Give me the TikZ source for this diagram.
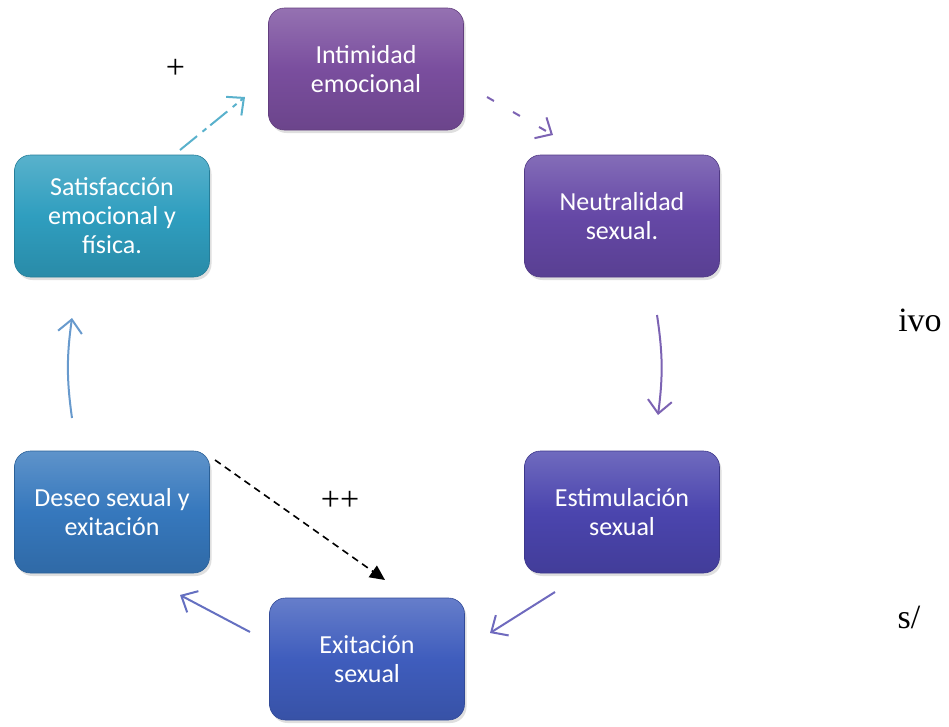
\documentclass[tikz,border=0pt]{standalone}
\usepackage{fontspec}
\setmainfont{Liberation Serif}
\newfontfamily\boxfont{Carlito}
\usetikzlibrary{arrows.meta,shadows}
\definecolor{cA}{HTML}{7A4E9E}
\definecolor{cB}{HTML}{6548A6}
\definecolor{cC}{HTML}{4B45AE}
\definecolor{cD}{HTML}{3F5DBD}
\definecolor{cE}{HTML}{3678BD}
\definecolor{cF}{HTML}{2F9EBF}
\tikzset{
  stagebox/.style={rounded corners=16pt, minimum width=195pt, minimum height=122pt,
    align=center, text=white, font=\boxfont\fontsize{26}{29}\selectfont,
    draw=#1!80!black, line width=0.6pt,
    top color=#1!80!white, bottom color=#1!88!black, middle color=#1,
    drop shadow={opacity=0.25, shadow xshift=2pt, shadow yshift=-3pt}},
  flow/.style={line width=2pt, -{Straight Barb[length=13pt,width=24pt,line width=2pt]}},
  sign/.style={font=\fontsize{34}{38}\selectfont}
}
\begin{document}
\begin{tikzpicture}[x=1pt,y=-1pt]
\useasboundingbox (0,0) rectangle (949,726);
\node[stagebox=cA] (a) at (366,69) {Intimidad\\emocional};
\node[stagebox=cB] (b) at (622,216) {Neutralidad\\sexual.};
\node[stagebox=cC] (c) at (622,512) {Estimulación\\sexual};
\node[stagebox=cD] (d) at (367,659) {Exitación\\sexual};
\node[stagebox=cE] (e) at (112,512) {Deseo sexual y\\exitación};
\node[stagebox=cF] (f) at (112,216) {Satisfacción\\emocional y\\física.};
% connectors
\draw[flow, color=cF!80!white, dash pattern=on 22pt off 7pt on 5pt off 5pt] ([shift={(68,-66)}]f.center) -- ([shift={(-121,28)}]a.center);
\draw[flow, color=cB!85!white, dash pattern=on 8pt off 22pt] ([shift={(121,28)}]a.center) -- ([shift={(-69,-81)}]b.center);
\draw[flow, color=cB!85!white] ([shift={(35,99)}]b.center) to[bend left=8] ([shift={(36,-97)}]c.center);
\draw[flow, color=cC!80!white] ([shift={(-67,80)}]c.center) -- ([shift={(123,-26)}]d.center);
\draw[flow, color=cD!70!cB!85!white] ([shift={(-117,-27)}]d.center) -- ([shift={(68,83)}]e.center);
\draw[flow, color=cE!75!white] ([shift={(-40,-94)}]e.center) to[bend left=8] ([shift={(-40,102)}]f.center);
\draw[line width=1.6pt, dash pattern=on 7pt off 5pt, -{Triangle[length=15pt,width=14pt]}] ([shift={(103,-52)}]e.center) -- ([shift={(18,-79)}]d.center);
% labels
\node[sign] (p1) at (175.5,69) {+};
\node[sign] (p2) at (340,501) {++};
\node[sign] (t1) at (920,320) {ivo};
\node[sign] (t2) at (909,617) {s/};
\end{tikzpicture}
\end{document}
